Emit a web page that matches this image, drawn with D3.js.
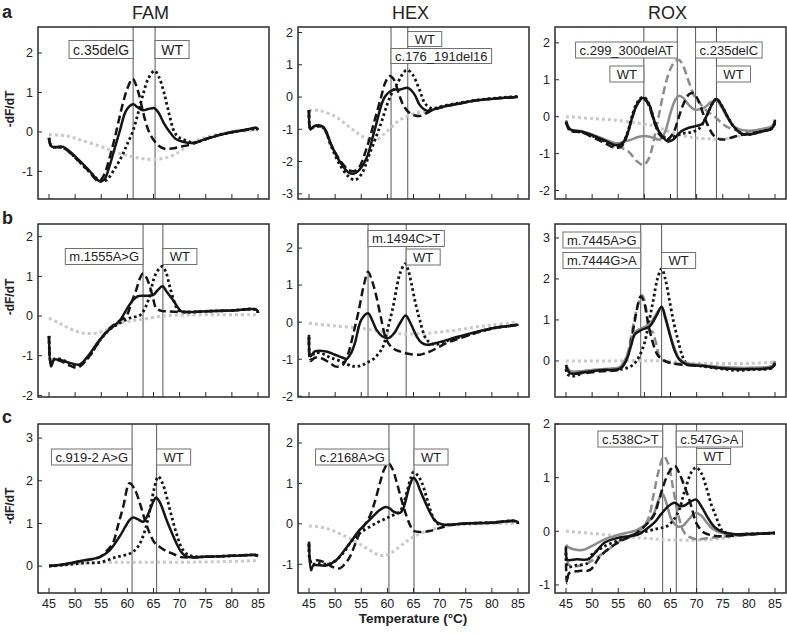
<!DOCTYPE html>
<html><head><meta charset="utf-8">
<script src="https://cdn.jsdelivr.net/npm/d3@7"></script>
<style>body{margin:0;background:#fff}svg{display:block;font-family:"Liberation Sans",Arial,sans-serif}</style>
</head><body><svg id="chart" width="787" height="634"></svg>
<script>
// ---------- data ----------
const channels = ['FAM','HEX','ROX'];
const rowLetters = ['a','b','c'];
const xTicks = [45,50,55,60,65,70,75,80,85];

// Row a
const famA_het = [[45,-0.15],[45.5,-0.37],[47.7,-0.38],[50,-0.62],[52.5,-0.95],[54.7,-1.25],[55.6,-1.2],[56.5,-0.9],[57.5,-0.45],[58.5,0.0],[59.8,0.55],[61.1,0.7],[62,0.62],[63,0.55],[64,0.58],[65.2,0.6],[66,0.48],[67,0.22],[68.1,0.0],[69.2,-0.17],[70.6,-0.25],[72.6,-0.28],[75,-0.18],[77.5,-0.08],[80.2,0.0],[82.5,0.05],[84.7,0.1],[85,0.05]];
const famA_mut = [[45,-0.15],[45.5,-0.37],[47.7,-0.4],[50,-0.65],[52.5,-0.98],[54.5,-1.25],[55.5,-1.1],[56.5,-0.7],[57.5,-0.2],[59,0.65],[60,1.1],[61,1.35],[62,1.05],[63,0.5],[64,0.05],[65,-0.2],[66,-0.35],[67,-0.42],[68.5,-0.42],[70,-0.38],[72.6,-0.3],[75,-0.18],[77.5,-0.08],[80.2,0.0],[82.5,0.05],[84.7,0.1],[85,0.05]];
const famA_wt = [[45,-0.15],[45.5,-0.37],[47.7,-0.4],[50,-0.65],[52.5,-0.98],[55,-1.25],[56,-1.22],[57.5,-0.95],[59,-0.6],[60,-0.3],[61,0.0],[62,0.45],[63,0.95],[64,1.35],[65.2,1.55],[66,1.4],[67,1.0],[68,0.45],[69,0.0],[70,-0.15],[71.3,-0.22],[72.6,-0.27],[75,-0.18],[77.5,-0.08],[80.2,0.0],[82.5,0.05],[85,0.08]];
const famA_ntc = [[45,-0.07],[48.3,-0.1],[51,-0.2],[54.7,-0.36],[57.5,-0.5],[60,-0.6],[62.5,-0.67],[65,-0.7],[67.5,-0.65],[70,-0.5],[71.3,-0.36],[73.8,-0.19],[77,-0.07],[80,0.0],[85,0.05]];

const hexA_het = [[45,-0.4],[45.3,-1.0],[46,-0.9],[47.7,-0.92],[49.3,-1.5],[50.9,-2.0],[52.5,-2.33],[53.5,-2.38],[54.5,-2.28],[56,-1.9],[57.6,-1.0],[59.5,0.0],[61.1,0.22],[62.4,0.23],[63.8,0.29],[64.5,0.22],[65.3,0.05],[66.2,-0.25],[67.5,-0.42],[68.5,-0.4],[70.7,-0.3],[73.9,-0.2],[77.1,-0.1],[80.3,-0.05],[85,0.0]];
const hexA_mut = [[45,-0.4],[45.3,-1.0],[46,-0.9],[47.7,-0.95],[49.3,-1.5],[50.9,-1.95],[52.5,-2.25],[53.5,-2.3],[54.5,-2.2],[56,-1.6],[57.6,-0.7],[58.8,0.0],[59.6,0.45],[60.4,0.65],[61.2,0.55],[62.2,0.1],[63.2,-0.3],[64.5,-0.52],[66.2,-0.59],[67.5,-0.5],[68.5,-0.42],[70.7,-0.3],[73.9,-0.2],[77.1,-0.1],[80.3,-0.05],[85,0.0]];
const hexA_wt = [[45,-0.4],[45.3,-1.0],[46,-0.92],[47.7,-0.95],[49.3,-1.55],[50.9,-2.1],[52.5,-2.45],[53.8,-2.57],[55,-2.4],[56.5,-1.8],[58.6,-0.9],[60.5,0.0],[62,0.45],[63.2,0.78],[63.8,0.84],[64.8,0.7],[66.2,0.2],[67.2,-0.2],[68.5,-0.35],[70.7,-0.28],[73.9,-0.18],[77.1,-0.1],[80.3,-0.04],[85,0.02]];
const hexA_ntc = [[45,-0.4],[47,-0.42],[50,-0.6],[52.5,-0.9],[55,-1.2],[57,-1.36],[58,-1.33],[60,-1.05],[62.4,-0.71],[65.3,-0.5],[67.5,-0.45],[70,-0.3],[75,-0.15],[80,-0.05],[85,0.0]];

const roxA_het = [[45,-0.13],[45.8,-0.35],[48,-0.4],[50,-0.5],[52.5,-0.65],[54.5,-0.77],[55.8,-0.72],[56.8,-0.45],[57.5,-0.1],[58.5,0.3],[59.5,0.5],[60.2,0.48],[61,0.3],[62,-0.15],[63,-0.45],[64.5,-0.67],[65.5,-0.62],[67,-0.4],[68.5,-0.3],[70,-0.25],[71,-0.2],[72,0.05],[73,0.35],[73.8,0.48],[74.8,0.3],[76,-0.02],[77,-0.25],[78.5,-0.45],[80,-0.48],[82.5,-0.4],[84.5,-0.3],[85,-0.08]];
const roxA_wt = [[45,-0.15],[45.8,-0.37],[48,-0.42],[50,-0.52],[52.5,-0.67],[54.5,-0.8],[55.8,-0.72],[56.8,-0.42],[57.5,-0.05],[58.5,0.35],[59.5,0.52],[60.2,0.5],[61,0.3],[62,-0.15],[63,-0.45],[64.5,-0.6],[66,-0.52],[67.5,-0.45],[69,-0.42],[70.5,-0.32],[72,0.05],[73,0.35],[73.8,0.48],[74.8,0.3],[76,-0.02],[77,-0.25],[78.5,-0.45],[80,-0.48],[82.5,-0.4],[84.5,-0.3],[85,-0.1]];
const roxA_mut = [[45,-0.15],[45.8,-0.38],[48,-0.42],[50,-0.55],[52.5,-0.72],[54.5,-0.85],[55.8,-0.78],[56.8,-0.45],[57.5,-0.1],[58.5,0.3],[59.5,0.48],[60.2,0.45],[61,0.25],[62,-0.2],[63,-0.5],[64.3,-0.62],[65.5,-0.45],[66.5,-0.05],[67.5,0.35],[68.5,0.6],[69.3,0.64],[70.3,0.45],[71.2,0.1],[72.2,-0.25],[73.2,-0.5],[74.2,-0.6],[75.2,-0.62],[77,-0.55],[79,-0.48],[82.5,-0.4],[84.5,-0.32],[85,-0.15]];
const roxA_ghet = [[45,-0.1],[45.8,-0.33],[48,-0.4],[50,-0.48],[52.5,-0.62],[54.5,-0.72],[56,-0.68],[57.5,-0.62],[58.8,-0.55],[60,-0.52],[61.5,-0.56],[63,-0.62],[64,-0.4],[65,0.1],[66,0.48],[66.7,0.57],[67.5,0.5],[68.5,0.32],[69.5,0.2],[70.2,0.19],[71.5,0.25],[72.8,0.4],[73.8,0.45],[74.8,0.25],[76,-0.05],[77.5,-0.3],[80,-0.38],[82.5,-0.33],[84.5,-0.25],[85,-0.12]];
const roxA_gmut = [[45,-0.1],[45.8,-0.35],[48,-0.42],[50,-0.5],[52.5,-0.65],[55,-0.8],[57,-0.95],[58.5,-1.2],[59.8,-1.31],[60.8,-1.15],[62,-0.5],[63,0.2],[64,0.85],[65,1.3],[66,1.52],[66.7,1.53],[67.5,1.35],[68.5,0.95],[69.6,0.55],[71,0.3],[72,0.15],[73.5,0.0],[75,-0.2],[77,-0.35],[79,-0.4],[82.5,-0.35],[84.5,-0.28],[85,-0.2]];
const roxA_ntc = [[45,0.0],[50,-0.05],[55,-0.1],[60,-0.2],[62.5,-0.28],[65,-0.42],[67.5,-0.52],[70,-0.58],[72.5,-0.6],[75,-0.6],[77.5,-0.55],[80,-0.45],[82.5,-0.35],[85,-0.25]];

// Row b
const famB_het = [[45,-0.5],[45.4,-1.27],[46,-1.1],[47.5,-1.12],[49,-1.18],[50.9,-1.22],[52.5,-1.0],[54.7,-0.6],[56.5,-0.35],[58.5,-0.12],[60,0.2],[61.1,0.41],[62,0.5],[63,0.51],[64.9,0.53],[65.8,0.65],[66.7,0.75],[67.6,0.6],[68.7,0.41],[70.3,0.12],[71.5,0.1],[75,0.12],[80,0.14],[84.7,0.16],[85,0.08]];
const famB_mut = [[45,-0.5],[45.4,-1.2],[46,-1.1],[47.5,-1.15],[49,-1.25],[50.5,-1.3],[52.5,-1.05],[54.7,-0.62],[56.5,-0.32],[58.5,-0.12],[59.8,0.0],[60.8,0.35],[61.7,0.66],[62.4,0.95],[63,1.07],[63.6,0.98],[64.3,0.75],[65,0.4],[65.5,0.2],[66.5,0.13],[67.5,0.12],[70,0.1],[75,0.12],[80,0.14],[84.7,0.16],[85,0.08]];
const famB_wt = [[45,-0.5],[45.4,-1.2],[46,-1.08],[47.5,-1.1],[49,-1.2],[50.5,-1.25],[52.5,-1.05],[54.7,-0.62],[56.5,-0.35],[58.5,-0.18],[60.5,-0.05],[62.4,0.02],[63.2,0.15],[64,0.4],[65.5,1.08],[66.7,1.25],[67.4,1.1],[68.1,0.75],[69,0.35],[69.7,0.15],[71,0.1],[75,0.12],[80,0.14],[84.7,0.16],[85,0.08]];
const famB_ntc = [[45,-0.05],[47,-0.18],[49,-0.32],[51.5,-0.43],[54,-0.43],[56,-0.35],[58.5,-0.18],[61,-0.12],[63,-0.08],[66.7,0.0],[72,0.03],[85,0.03]];

const hexB_het = [[45,-0.34],[45.3,-0.92],[46.1,-0.79],[48.3,-0.79],[50,-0.88],[51.5,-0.96],[52.2,-0.99],[53,-0.85],[53.8,-0.56],[55,0.06],[56.3,0.24],[57.1,0.05],[57.9,-0.2],[59,-0.38],[60.2,-0.43],[61.3,-0.3],[62.4,-0.03],[63.5,0.18],[64.5,-0.05],[65.6,-0.38],[66.5,-0.55],[67.5,-0.61],[69.4,-0.56],[73.9,-0.38],[80.3,-0.16],[84.8,-0.07],[85,-0.05]];
const hexB_mut = [[45,-0.4],[45.3,-1.05],[46.1,-0.96],[47.5,-0.98],[49,-1.1],[50.2,-1.2],[51.5,-1.15],[52.5,-0.85],[53.5,-0.3],[54.5,0.3],[55.5,1.0],[56.3,1.36],[57.1,1.1],[57.9,0.69],[58.8,0.1],[59.8,-0.47],[61,-0.7],[62.4,-0.79],[64,-0.85],[66.2,-0.88],[67.5,-0.82],[68.2,-0.79],[71.4,-0.56],[75,-0.38],[80.3,-0.16],[84.8,-0.07],[85,-0.05]];
const hexB_wt = [[45,-0.4],[45.3,-1.0],[46.1,-0.83],[47.5,-0.85],[49,-0.95],[51,-1.05],[53.4,-1.19],[55,-1.17],[56,-1.1],[57.3,-1.0],[58.3,-0.85],[59.2,-0.65],[60.2,-0.1],[61.1,0.42],[61.8,0.95],[62.4,1.31],[63.4,1.58],[64,1.4],[64.6,1.04],[65.4,0.5],[66.2,0.06],[67.5,-0.47],[69,-0.6],[71,-0.52],[75,-0.36],[80.3,-0.16],[84.8,-0.07],[85,-0.05]];
const hexB_ntc = [[45,-0.03],[50,-0.1],[54.7,-0.16],[58,-0.24],[61.1,-0.3],[64,-0.32],[67.5,-0.3],[70.5,-0.26],[73.9,-0.2],[77,-0.13],[80.3,-0.07],[85,0.0]];

const roxB_wt = [[45,-0.2],[45.3,-0.33],[46.5,-0.37],[49,-0.25],[52,-0.22],[55.3,-0.21],[57.9,-0.09],[59.8,0.35],[60.8,0.9],[61.7,1.48],[62.5,2.0],[63.3,2.25],[64,2.0],[64.8,1.48],[65.6,0.95],[66.4,0.52],[67.2,0.15],[68,-0.05],[71.2,-0.13],[74,-0.18],[77.5,-0.23],[80.7,-0.21],[84.5,-0.17],[85,-0.05]];
const roxB_het = [[45,-0.1],[45.8,-0.3],[48,-0.28],[52,-0.22],[55.3,-0.19],[56.6,0.03],[57.4,0.35],[58.2,0.65],[59.5,0.76],[61,0.84],[62.3,1.1],[63.3,1.32],[64,1.05],[64.8,0.68],[65.8,0.25],[66.7,0.03],[68,-0.08],[71,-0.12],[75,-0.18],[80,-0.2],[84.5,-0.15],[85,-0.05]];
const roxB_ghet = [[45,-0.1],[45.8,-0.25],[48,-0.25],[52,-0.2],[55.3,-0.15],[56.6,0.1],[57.4,0.4],[58.2,0.7],[59.5,0.8],[61,0.9],[62.3,1.15],[63.3,1.3],[64,1.1],[64.8,0.7],[65.8,0.3],[66.7,0.05],[68,-0.05],[71,-0.1],[75,-0.15],[80,-0.17],[84.5,-0.12],[85,0.0]];
const roxB_gmut = [[45,-0.1],[45.8,-0.25],[48,-0.25],[52,-0.2],[55.3,-0.15],[56.6,0.11],[57.4,0.55],[58.2,1.08],[59,1.45],[59.6,1.6],[60.3,1.3],[61,0.72],[61.5,0.72],[62.2,0.45],[62.9,0.11],[63.5,0.03],[65,-0.05],[68,-0.08],[71,-0.1],[75,-0.15],[80,-0.17],[84.5,-0.12],[85,0.0]];
const roxB_mut = [[45,-0.15],[45.8,-0.3],[48,-0.3],[52,-0.25],[55.3,-0.2],[56.6,0.05],[57.4,0.45],[58.2,1.0],[58.8,1.4],[59.3,1.58],[59.9,1.45],[60.6,1.0],[61.5,0.5],[62.5,0.15],[63.5,0.03],[65,-0.05],[68,-0.1],[71,-0.12],[75,-0.18],[80,-0.2],[84.5,-0.15],[85,-0.05]];
const roxB_ntc = [[45,0.0],[55,0.0],[64,0.0],[68,-0.05],[75,-0.06],[80,-0.06],[85,-0.03]];

// Row c
const famC_het = [[45,0.0],[48.3,0.05],[51.5,0.13],[54.7,0.21],[56.6,0.37],[58.5,0.69],[59.5,0.9],[60.4,1.08],[61.1,1.14],[62,1.1],[63,1.04],[63.7,1.15],[64.3,1.31],[65,1.52],[65.5,1.61],[66.2,1.5],[67.5,1.08],[68.5,0.78],[69.4,0.53],[70.2,0.35],[71,0.25],[72,0.21],[75,0.22],[80,0.24],[84.5,0.26],[85,0.24]];
const famC_mut = [[45,0.0],[48.3,0.05],[51.5,0.13],[54.7,0.21],[56,0.35],[57.2,0.53],[58.2,0.95],[59.2,1.39],[60.4,1.94],[61.4,1.8],[62.4,1.47],[63.3,1.1],[64.3,0.76],[65.2,0.55],[66.2,0.45],[67.5,0.35],[68.7,0.29],[70.3,0.21],[72,0.2],[75,0.22],[80,0.24],[84.5,0.26],[85,0.24]];
const famC_wt = [[45,0.0],[48.3,0.03],[51.5,0.07],[54.7,0.09],[57.9,0.21],[60.4,0.29],[61.5,0.38],[62.4,0.53],[63.4,0.85],[64.3,1.31],[65.2,1.85],[65.9,2.1],[66.7,1.95],[67.5,1.63],[68.4,1.2],[69.4,0.76],[70.3,0.45],[71.3,0.29],[72.5,0.23],[75,0.22],[80,0.24],[84.5,0.26],[85,0.24]];
const famC_ntc = [[45,0.0],[51.5,0.07],[57,0.09],[63,0.09],[70,0.09],[76,0.1],[85,0.13]];

const hexC_het = [[45,-0.44],[45.4,-1.15],[45.8,-1.03],[48.3,-1.03],[50.2,-0.9],[51.5,-0.7],[52.8,-0.48],[54.7,-0.15],[56.6,0.1],[58.6,0.35],[59.7,0.42],[60.5,0.38],[61.1,0.31],[62.4,0.27],[63.1,0.4],[63.7,0.68],[64.4,1.0],[65,1.14],[65.6,1.05],[66.2,0.85],[67.2,0.55],[68.2,0.27],[69,0.1],[69.8,0.02],[71,-0.02],[75,0.01],[80,0.03],[84.8,0.06],[85,0.0]];
const hexC_mut = [[45,-0.48],[45.4,-0.94],[46.5,-0.9],[48,-0.95],[49.6,-1.07],[50.9,-1.1],[51.8,-1.0],[52.8,-0.82],[54.7,-0.23],[56.6,0.18],[57.6,0.55],[58.6,1.02],[59.4,1.35],[60.2,1.5],[61,1.35],[61.8,1.02],[62.8,0.55],[63.7,0.18],[64.4,-0.05],[65,-0.17],[67.5,-0.19],[70.1,-0.1],[72,-0.03],[75,0.01],[80,0.03],[84.8,0.06],[85,0.0]];
const hexC_wt = [[45,-0.5],[45.4,-0.98],[47,-0.98],[49.2,-0.98],[51.5,-0.73],[53,-0.45],[54.7,-0.23],[57.9,0.02],[60.5,0.18],[62.4,0.31],[63.1,0.5],[63.7,0.77],[64.4,1.1],[65,1.28],[65.8,1.2],[66.6,1.02],[67.4,0.7],[68.2,0.35],[69,0.1],[70,-0.02],[72,-0.02],[75,0.01],[80,0.03],[84.8,0.06],[85,0.0]];
const hexC_ntc = [[45,-0.05],[48.3,-0.11],[51,-0.25],[53.4,-0.4],[56,-0.6],[58.6,-0.78],[60,-0.76],[61.1,-0.69],[63,-0.5],[65,-0.32],[68.2,-0.15],[71.3,-0.05],[74,-0.02],[85,0.02]];

const roxC_gmut = [[45,-0.3],[45.5,-0.62],[47,-0.65],[49,-0.6],[51,-0.48],[53,-0.35],[55,-0.2],[57.5,-0.07],[59.5,0.05],[60.8,0.25],[61.8,0.7],[62.8,1.15],[63.7,1.4],[64.6,1.25],[65.5,0.8],[66.5,0.3],[67.5,0.0],[68.5,-0.1],[70,-0.15],[72,-0.13],[75,-0.1],[80,-0.06],[85,-0.03]];
const roxC_ghet = [[45,-0.25],[45.5,-0.3],[48,-0.35],[50,-0.27],[52.4,-0.15],[55.3,-0.06],[58.5,0.02],[60.5,0.15],[61.7,0.3],[62.8,0.6],[63.5,0.69],[64.3,0.5],[65.2,0.22],[66.4,0.09],[67.3,0.1],[68.5,0.22],[69.7,0.34],[70.8,0.3],[71.8,0.18],[73,0.05],[74.4,-0.02],[77,-0.06],[80,-0.05],[85,-0.03]];
const roxC_het = [[45,-0.28],[45.3,-0.53],[47,-0.52],[49.3,-0.52],[51,-0.35],[52.4,-0.21],[55,-0.12],[58.8,-0.06],[60.5,0.05],[61.9,0.16],[63.2,0.32],[64.5,0.46],[65.8,0.53],[66.8,0.47],[67.7,0.48],[68.8,0.55],[69.9,0.59],[71,0.45],[72.1,0.26],[73.4,0.08],[74.7,0.0],[77,-0.05],[80,-0.05],[85,-0.03]];
const roxC_mut = [[45,-0.6],[45.2,-0.97],[45.6,-0.78],[47.5,-0.74],[49.6,-0.72],[51.5,-0.47],[53.5,-0.3],[55.3,-0.19],[58.5,-0.03],[61.7,0.28],[62.7,0.55],[63.6,0.84],[64.7,1.1],[65.8,1.22],[66.6,1.1],[67.4,0.91],[68.6,0.59],[69.3,0.35],[69.9,0.16],[70.7,0.04],[71.5,-0.03],[74,-0.09],[80,-0.06],[85,-0.03]];
const roxC_wt = [[45,-0.4],[45.3,-0.66],[47,-0.63],[49,-0.6],[49.6,-0.47],[52,-0.3],[55.3,-0.16],[58,-0.07],[60.4,0.0],[62.5,0.05],[64.2,0.09],[65.5,0.2],[66.7,0.41],[67.4,0.65],[68,0.84],[69,1.1],[69.9,1.19],[70.8,1.1],[71.8,0.84],[72.8,0.5],[73.7,0.28],[74.4,0.1],[75,0.0],[77,-0.06],[80,-0.05],[85,-0.03]];
const roxC_ntc = [[45,0.0],[50,-0.04],[55.3,-0.09],[60,-0.13],[64.8,-0.16],[71.2,-0.16],[75,-0.13],[78,-0.08],[85,-0.03]];

// ---------- panel configuration ----------
const panels = [
 {r:0,c:0,yDom:[-1.70,2.66],yTicks:[-1,0,1,2],series:[[famA_ntc,'ntc'],[famA_wt,'wt'],[famA_mut,'mut'],[famA_het,'het']],vlines:[61.1,65.3],labels:[['c.35delG',61.1,'L',49.5],['WT',65.3,'R',49.5]],fs:14,bh:18},
 {r:0,c:1,yDom:[-3.16,2.17],yTicks:[-3,-2,-1,0,1,2],series:[[hexA_ntc,'ntc'],[hexA_wt,'wt'],[hexA_mut,'mut'],[hexA_het,'het']],vlines:[60.7,63.9],labels:[['WT',63.9,'R',39],['c.176_191del16',60.7,'R',56]],bh:15},
 {r:0,c:2,yDom:[-2.23,2.43],yTicks:[-2,-1,0,1,2],series:[[roxA_ntc,'ntc'],[roxA_gmut,'gmut'],[roxA_ghet,'ghet'],[roxA_wt,'wt'],[roxA_mut,'mut'],[roxA_het,'het']],vlines:[59.9,66.3,69.8,73.8],labels:[['c.299_300delAT',66.3,'L',50],['WT',59.9,'L',74],['c.235delC',69.8,'R',50],['WT',73.8,'R',74]]},
 {r:1,c:0,yDom:[-2.04,2.32],yTicks:[-2,-1,0,1,2],series:[[famB_ntc,'ntc'],[famB_wt,'wt'],[famB_mut,'mut'],[famB_het,'het']],vlines:[63.0,66.8],labels:[['m.1555A>G',63.0,'L',256.5],['WT',66.8,'R',256.5]]},
 {r:1,c:1,yDom:[-2.02,2.65],yTicks:[-2,-1,0,1,2],series:[[hexB_ntc,'ntc'],[hexB_wt,'wt'],[hexB_mut,'mut'],[hexB_het,'het']],vlines:[56.3,63.6],labels:[['m.1494C>T',56.3,'R',238.5],['WT',63.6,'R',257]]},
 {r:1,c:2,yDom:[-0.88,3.34],yTicks:[0,1,2,3],series:[[roxB_ntc,'ntc'],[roxB_wt,'wt'],[roxB_gmut,'gmut'],[roxB_mut,'mut'],[roxB_ghet,'ghet'],[roxB_het,'het']],vlines:[59.3,63.3],labels:[['m.7445A>G',59.3,'L',240],['m.7444G>A',59.3,'L',260.5],['WT',63.3,'R',260.5]]},
 {r:2,c:0,yDom:[-0.63,3.33],yTicks:[0,1,2,3],series:[[famC_ntc,'ntc'],[famC_wt,'wt'],[famC_mut,'mut'],[famC_het,'het']],vlines:[60.9,65.6],labels:[['c.919-2 A>G',60.9,'L',457],['WT',65.6,'R',457]]},
 {r:2,c:1,yDom:[-1.71,2.47],yTicks:[-1,0,1,2],series:[[hexC_ntc,'ntc'],[hexC_wt,'wt'],[hexC_mut,'mut'],[hexC_het,'het']],vlines:[60.3,65.1],labels:[['c.2168A>G',60.3,'L',457],['WT',65.1,'R',457]]},
 {r:2,c:2,yDom:[-1.15,2.0],yTicks:[-1,0,1,2],series:[[roxC_ntc,'ntc'],[roxC_gmut,'gmut'],[roxC_ghet,'ghet'],[roxC_wt,'wt'],[roxC_mut,'mut'],[roxC_het,'het']],vlines:[63.5,66.1,70.0],labels:[['c.538C>T',63.5,'L',439],['c.547G>A',66.1,'R',439],['WT',70.0,'R',456.5]]}
];

// ---------- layout / styles ----------
const colLeft = [38, 298, 555];
const panelW = 231;
const rowBox = [[27,199],[224,397],[424,593]];
const ylabCenter = [109, 297, 506];
const styles = {
  ntc:{stroke:'#c9c9c9',w:3,dash:'3,3'},
  wt:{stroke:'#151515',w:2.8,dash:'2.6,2.8'},
  mut:{stroke:'#151515',w:2.5,dash:'8,4'},
  het:{stroke:'#151515',w:2.5,dash:null},
  ghet:{stroke:'#8c8c8c',w:2.5,dash:null},
  gmut:{stroke:'#8c8c8c',w:2.5,dash:'8,4'}
};

const svg = d3.select('#chart');

channels.forEach((ch,i)=>{
  svg.append('text').attr('x',colLeft[i]+panelW/2-3).attr('y',19).attr('text-anchor','middle')
    .attr('font-size',18).attr('fill','#222').text(ch);
});
rowLetters.forEach((l,i)=>{
  const by=[18,224,423][i];
  svg.append('text').attr('x',2).attr('y',by).attr('font-size',18).attr('font-weight','bold').attr('fill','#222').text(l);
  svg.append('text').attr('transform',`translate(14,${ylabCenter[i]}) rotate(-90)`).attr('text-anchor','middle')
    .attr('font-size',12).attr('font-weight','bold').attr('fill','#222').text('-dF/dT');
});
svg.append('text').attr('x',413).attr('y',623).attr('text-anchor','middle').attr('font-size',13.5)
  .attr('font-weight','bold').attr('fill','#222').text('Temperature (°C)');

panels.forEach(p=>{
  const L = colLeft[p.c], T = rowBox[p.r][0], B = rowBox[p.r][1];
  const x = d3.scaleLinear().domain([45,85]).range([L+11, L+11+209]);
  const y = d3.scaleLinear().domain(p.yDom).range([B, T]);
  const g = svg.append('g');
  const clipId = `clip${p.r}${p.c}`;
  g.append('clipPath').attr('id',clipId).append('rect').attr('x',L).attr('y',T).attr('width',panelW).attr('height',B-T);

  // vertical marker lines
  p.vlines.forEach(v=>{
    g.append('line').attr('x1',x(v)).attr('x2',x(v)).attr('y1',T).attr('y2',B)
      .attr('stroke','#555').attr('stroke-width',1);
  });

  // curves
  const line = d3.line().x(d=>x(d[0])).y(d=>y(d[1])).curve(d3.curveCatmullRom.alpha(0.5));
  const cg = g.append('g').attr('clip-path',`url(#${clipId})`);
  p.series.forEach(([data,st])=>{
    const s = styles[st];
    cg.append('path').attr('d',line(data)).attr('fill','none').attr('stroke',s.stroke)
      .attr('stroke-width',s.w).attr('stroke-dasharray',s.dash).attr('stroke-linejoin','round');
  });

  // label boxes
  const fs = p.fs || 13, bh = p.bh || 16;
  p.labels.forEach(([txt,v,side,cy])=>{
    const lg = g.append('g');
    const t = lg.append('text').attr('font-size',fs).attr('fill','#222').attr('y',cy).attr('dy','0.36em').text(txt);
    const tw = t.node().getComputedTextLength();
    const bw = Math.max(tw+8, 34);
    const bx = side==='L' ? x(v)-bw : x(v);
    lg.insert('rect','text').attr('x',bx).attr('y',cy-bh/2).attr('width',bw).attr('height',bh)
      .attr('fill','#fff').attr('stroke','#707070').attr('stroke-width',1);
    t.attr('x',bx+bw/2).attr('text-anchor','middle');
  });

  // frame
  g.append('rect').attr('x',L).attr('y',T).attr('width',panelW).attr('height',B-T)
    .attr('fill','none').attr('stroke','#2a2a2a').attr('stroke-width',1.5);

  // y ticks
  p.yTicks.forEach(tv=>{
    g.append('line').attr('x1',L).attr('x2',L+4).attr('y1',y(tv)).attr('y2',y(tv)).attr('stroke','#2a2a2a').attr('stroke-width',1);
    g.append('text').attr('x',L-5).attr('y',y(tv)).attr('dy','0.35em').attr('text-anchor','end')
      .attr('font-size',12.5).attr('fill','#222').text(tv);
  });
  // x ticks
  xTicks.forEach(tv=>{
    g.append('line').attr('x1',x(tv)).attr('x2',x(tv)).attr('y1',B-5).attr('y2',B).attr('stroke','#2a2a2a').attr('stroke-width',1);
    if(p.r===2){
      g.append('text').attr('x',x(tv)).attr('y',B+15).attr('text-anchor','middle')
        .attr('font-size',12.5).attr('fill','#222').text(tv);
    }
  });
});
</script></body></html>
